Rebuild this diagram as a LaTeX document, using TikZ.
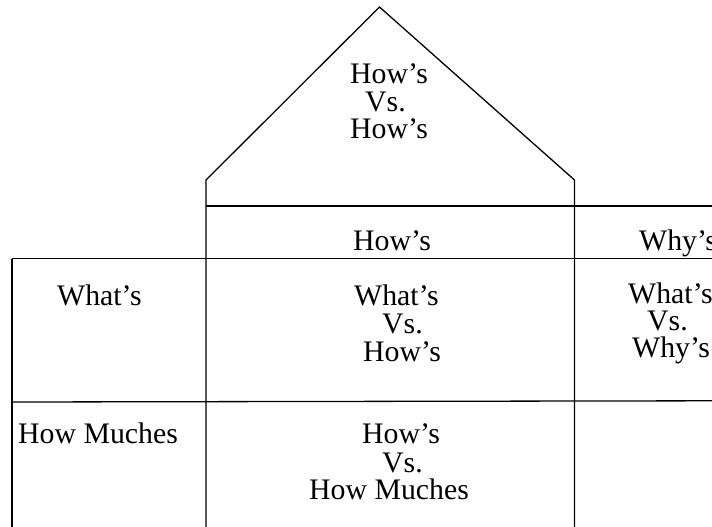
\documentclass[tikz,border=0pt]{standalone}
\usepackage{fontspec}
\setmainfont{Liberation Serif}
\begin{document}
\begin{tikzpicture}[x=1pt,y=-1pt,
  every node/.style={font=\fontsize{29.8}{27.5}\selectfont, inner sep=0pt, anchor=base west},
  ln/.style={line width=1.3pt, line join=miter},
  thinln/.style={line width=1pt}]
\clip (0,0) rectangle (712,527);
% house outline
\coordinate (apex) at (379.5,7);
\coordinate (eL) at (206,180);
\coordinate (eR) at (574.5,180);
\coordinate (wLb) at (206,527);
\coordinate (wRb) at (574.5,527);
\draw[ln] (wLb) -- (eL) -- (apex) -- (eR) -- (wRb);
% horizontal lines
\coordinate (h1a) at (206,206);
\coordinate (h1b) at (712,206);
\draw[ln] (h1a) -- (h1b);
\coordinate (h2a) at (12,258.5);
\coordinate (h2m) at (532,258.5);
\coordinate (h2b) at (712,258.5);
\draw[line width=1.6pt] (h2a) -- (h2m);
\draw[thinln] (h2m) -- (h2b);
\coordinate (lbb) at (12,527);
\draw[ln] (lbb) -- (h2a);
\coordinate (h3a) at (12,402);
\coordinate (h3b) at (712,400.8);
\draw[ln] (h3a) -- (h3b);
% roof text
\node (r1) at (350,83) {How’s};
\node (r2) at (365,111) {Vs.};
\node (r3) at (350,138) {How’s};
% band
\node (hb) at (353,250) {How’s};
\node (wb) at (639,250) {Why’s};
% left
\node (lw) at (57,305) {What’s};
\node (lh) at (18,443) {How Muches};
% middle cell
\node (m1) at (354,305) {What’s};
\node (m2) at (382,333) {Vs.};
\node (m3) at (363,361) {How’s};
% right cell
\node (q1) at (628,303.5) {What’s};
\node (q2) at (647,330.5) {Vs.};
\node (q3) at (632,357) {Why’s};
% bottom cell
\node (b1) at (362,443) {How’s};
\node (b2) at (382,472) {Vs.};
\node (b3) at (309,499) {How Muches};
\end{tikzpicture}
\end{document}
